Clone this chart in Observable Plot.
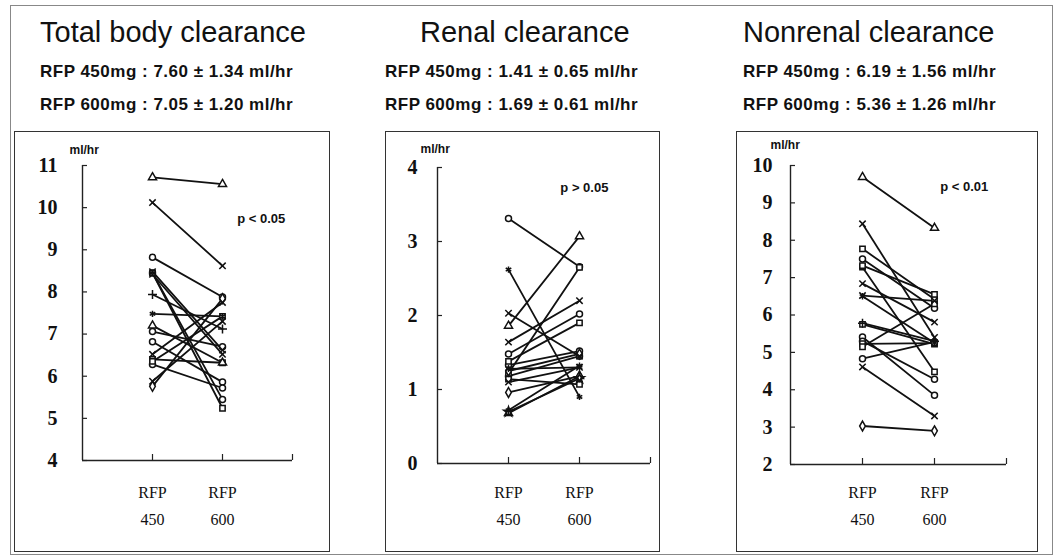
<!DOCTYPE html>
<html><head><meta charset="utf-8">
<script src="https://cdn.jsdelivr.net/npm/d3@7"></script>
<script src="https://cdn.jsdelivr.net/npm/@observablehq/plot@0.6"></script>
<style>
body{margin:0;background:#fff;}
#root{position:relative;width:1058px;height:559px;overflow:hidden;background:#fff;font-family:"Liberation Sans",Arial,sans-serif;color:#111;}
.title{position:absolute;font-size:29px;white-space:nowrap;line-height:1;}
.sub{position:absolute;font-size:17px;font-weight:bold;letter-spacing:0.5px;white-space:nowrap;line-height:1;}
.box{position:absolute;border:1px solid #333;box-sizing:border-box;}
.panel{position:absolute;}
</style></head><body><div id="root"></div>
<script>
// ---- text ----
const titles = ["Total body clearance", "Renal clearance", "Nonrenal clearance"];
const sub450 = ["RFP 450mg : 7.60 ± 1.34 ml/hr", "RFP 450mg : 1.41 ± 0.65 ml/hr", "RFP 450mg : 6.19 ± 1.56 ml/hr"];
const sub600 = ["RFP 600mg : 7.05 ± 1.20 ml/hr", "RFP 600mg : 1.69 ± 0.61 ml/hr", "RFP 600mg : 5.36 ± 1.26 ml/hr"];
const pTexts = ["p < 0.05", "p > 0.05", "p < 0.01"];
const unitLabel = "ml/hr";
const catTop = ["RFP", "RFP"];
const catBottom = ["450", "600"];
const catPos = [1, 2];

// ---- Total body clearance ----
const tbSym = ["triangle","times","circle","times","circle","square","times","plus","asterisk","triangle","circle","circle","times","square","circle","times","diamond","square"];
const tb450 = [10.72,10.12,8.82,8.48,8.45,8.45,8.42,7.94,7.48,7.20,7.06,6.82,6.52,6.40,6.28,5.88,5.76,6.35];
const tb600 = [10.56,8.62,7.88,6.62,5.45,5.24,6.52,7.12,7.42,6.32,6.70,5.86,7.75,6.32,5.72,7.30,7.84,7.42];
const tbTicks = [4,5,6,7,8,9,10,11];

// ---- Renal clearance ----
const rnSym = ["circle","asterisk","times","triangle","times","circle","square","circle","asterisk","square","circle","square","times","diamond","asterisk","triangle","star","diamond"];
const rn450 = [3.31,2.62,2.03,1.86,1.64,1.48,1.38,1.33,1.28,1.22,1.18,1.14,1.10,0.96,0.72,0.68,0.70,1.25];
const rn600 = [2.66,0.90,1.45,3.07,2.20,2.02,1.90,1.52,1.30,2.65,1.45,1.07,1.30,1.18,1.32,1.18,1.15,1.48];
const rnTicks = [0,1,2,3,4];

// ---- Nonrenal clearance ----
const nrSym = ["triangle","times","square","circle","square","square","times","times","asterisk","plus","square","circle","square","square","circle","times","diamond","circle"];
const nr450 = [9.69,8.44,7.77,7.50,7.28,7.32,6.84,6.52,6.50,5.78,5.75,5.41,5.23,5.15,4.83,4.61,3.03,5.30];
const nr600 = [8.33,5.40,6.42,6.18,4.48,6.55,5.81,6.38,5.25,5.30,5.22,3.85,5.25,6.30,5.28,3.30,2.90,4.28];
const nrTicks = [2,3,4,5,6,7,8,9,10];

const root = document.getElementById("root");
function addDiv(cls, text, style) {
  const d = document.createElement("div");
  d.className = cls; if (text) d.textContent = text;
  Object.assign(d.style, style); root.appendChild(d); return d;
}
// outer frame
addDiv("box", "", {left:"10px", top:"5px", width:"1043px", height:"550px", borderColor:"#888"});

const titleLeft = [40, 420, 743];
const subLeft = [40, 385, 743];
titles.forEach((t,i)=>{
  addDiv("title", t, {left: titleLeft[i]+"px", top: "18px"});
  addDiv("sub", sub450[i], {left: subLeft[i]+"px", top: "63px"});
  addDiv("sub", sub600[i], {left: subLeft[i]+"px", top: "96px"});
});

const hollow = new Set(["circle","square","triangle","diamond"]);
const symbolsAll = ["circle","square","triangle","diamond","times","plus","asterisk","star"];

function panel(cfg) {
  const rows = cfg.v450.flatMap((v,i)=>[
    {id:i, x:1, y:v, s:cfg.sym[i]},
    {id:i, x:2, y:cfg.v600[i], s:cfg.sym[i]}
  ]);
  const ymin = cfg.ticks[0], ymax = cfg.ticks[cfg.ticks.length-1];
  const innerH = cfg.height - cfg.mt - cfg.mb;
  const innerW = cfg.width - cfg.ml - cfg.mr;
  const pyu = innerH/(ymax-ymin), pxu = innerW/3;
  const dotMarks = symbolsAll.map(s => Plot.dot(rows.filter(r=>r.s===s), {
    x:"x", y:"y", symbol: s, r: 3,
    fill: hollow.has(s) ? "white" : "none", stroke:"#111", strokeWidth: 1.5
  }));
  const chart = Plot.plot({
    width: cfg.width, height: cfg.height,
    marginLeft: cfg.ml, marginRight: cfg.mr, marginTop: cfg.mt, marginBottom: cfg.mb,
    x: {domain:[0,3], axis:null},
    y: {domain:[ymin,ymax], axis:null},
    style: {background:"transparent", overflow:"visible"},
    marks: [
      Plot.ruleX([0], {y1: ymin, y2: ymax, stroke:"#222", strokeWidth:1.4}),
      Plot.ruleY([ymin], {x1: 0, x2: 3, stroke:"#222", strokeWidth:1.4}),
      Plot.ruleY(cfg.ticks, {x1: 0, x2: 5/pxu, stroke:"#222", strokeWidth:1.2}),
      Plot.ruleX([1,2,3], {y1: ymin, y2: ymin + 6/pyu, stroke:"#222", strokeWidth:1.2}),
      Plot.text(cfg.ticks, {x: 0, y: d=>d, text: d=>String(d), textAnchor:"end", dx: cfg.labelDx,
        fontFamily:"Liberation Serif", fontWeight:"bold", fontSize: 20, fill:"#111"}),
      Plot.text([unitLabel], {x: 0, y: ymax, dx: cfg.unitDx, dy: cfg.unitDy, textAnchor:"start",
        fontFamily:"Liberation Sans", fontWeight:"bold", fontSize: 12, fill:"#111"}),
      Plot.line(rows, {x:"x", y:"y", z:"id", stroke:"#111", strokeWidth:1.8}),
      ...dotMarks,
      Plot.text([cfg.p], {x: cfg.px, y: cfg.py, textAnchor:"start",
        fontFamily:"Liberation Sans", fontWeight:"bold", fontSize: 13, fill:"#111"}),
      Plot.text(catTop, {x:(d,i)=>catPos[i], y: ymin, dy: cfg.catDy, fontFamily:"Liberation Serif", fontSize: 16, fill:"#111"}),
      Plot.text(catBottom, {x:(d,i)=>catPos[i], y: ymin, dy: cfg.catDy + 27, fontFamily:"Liberation Serif", fontSize: 16, fill:"#111"})
    ]
  });
  const wrap = document.createElement("div");
  wrap.className = "panel";
  wrap.style.left = cfg.left + "px"; wrap.style.top = cfg.top + "px";
  wrap.appendChild(chart);
  root.appendChild(wrap);
  addDiv("box", "", {left: cfg.left+"px", top: cfg.top+"px", width: cfg.width+"px", height: cfg.height+"px"});
}

panel({sym: tbSym, v450: tb450, v600: tb600, ticks: tbTicks, p: pTexts[0],
  left: 14, top: 131, width: 316, height: 421, ml: 68, mr: 38, mt: 34, mb: 92,
  labelDx: -25, unitDx: -13, unitDy: -15, px: 2.21, py: 9.73, catDy: 32});
panel({sym: rnSym, v450: rn450, v600: rn600, ticks: rnTicks, p: pTexts[1],
  left: 385, top: 131, width: 275, height: 421, ml: 52, mr: 10, mt: 36, mb: 89,
  labelDx: -20, unitDx: -17, unitDy: -18, px: 1.73, py: 3.72, catDy: 29});
panel({sym: nrSym, v450: nr450, v600: nr600, ticks: nrTicks, p: pTexts[2],
  left: 736, top: 131, width: 302, height: 421, ml: 54, mr: 32, mt: 34, mb: 88,
  labelDx: -18, unitDx: -20, unitDy: -20, px: 2.08, py: 9.44, catDy: 28});
</script>
</body></html>
